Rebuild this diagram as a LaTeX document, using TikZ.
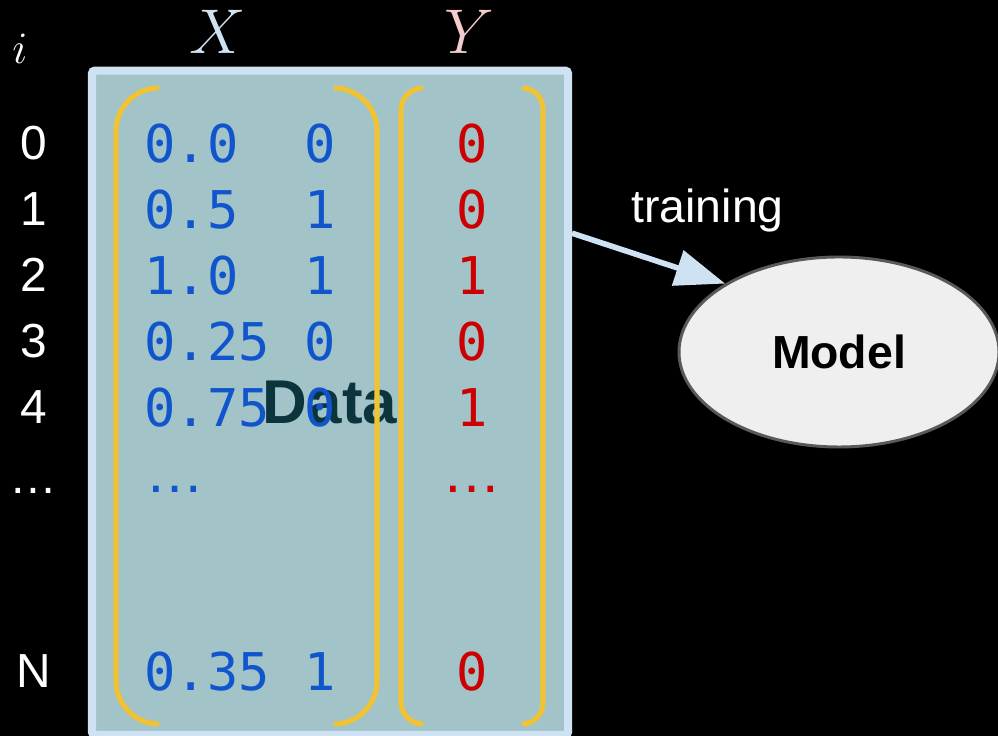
\RequirePackage{fix-cm}
\documentclass[tikz,border=0pt]{standalone}
\usepackage{fontspec}
\setmainfont{Liberation Sans}
\newfontfamily\monofont{DejaVu Sans Mono}
\usetikzlibrary{arrows.meta,shapes.geometric,positioning}
\definecolor{databackground}{HTML}{a2c4c9}
\definecolor{databorder}{HTML}{cfe2f3}
\definecolor{bracketyellow}{HTML}{f1c232}
\definecolor{featureblue}{HTML}{1155cc}
\definecolor{labelred}{HTML}{cc0000}
\definecolor{labelpink}{HTML}{f4cccc}
\definecolor{datatext}{HTML}{0c343d}
\definecolor{modelfill}{HTML}{efefef}
\definecolor{modelborder}{HTML}{595959}

\begin{document}
\begin{tikzpicture}[
    index/.style={white, anchor=base, inner sep=0, font=\fontsize{34}{40}\selectfont},
    feature/.style={featureblue, anchor=base west, inner sep=0, font=\monofont\fontsize{37}{42}\selectfont},
    target/.style={labelred, anchor=base, inner sep=0, font=\monofont\fontsize{37}{42}\selectfont},
    dots/.style={anchor=base, inner sep=0, font=\fontsize{42}{48}\selectfont},
    bracket/.style={bracketyellow, line width=3.6pt},
    ]

    \useasboundingbox (0,0) rectangle (24.95,18.4);
    \fill[black] (0,0) rectangle (24.95,18.4);

    % the data table
    \node[draw=databorder, fill=databackground, line width=5.7pt, rounded corners=2pt,
        minimum width=11.9cm, minimum height=16.61cm, text=datatext,
        font=\bfseries\fontsize{44}{50}\selectfont] (data) at (8.25,8.33) {Data};

    % column headers
    \node[white, anchor=base, inner sep=0, font=\fontsize{32}{38}\selectfont] (ihead) at (0.5,16.8) {$i$};
    \node[text=databorder, anchor=base, inner sep=0, font=\fontsize{45}{54}\selectfont] (xhead) at (5.45,17.05) {$X$};
    \node[text=labelpink, anchor=base, inner sep=0, font=\fontsize{45}{54}\selectfont] (yhead) at (11.725,17.05) {$Y$};

    % brackets round X and Y
    \draw[bracket] (3.975,16.2) arc[start angle=90, end angle=180, radius=1.075] -- (2.9,1.375)
        arc[start angle=180, end angle=270, radius=1.075];
    \draw[bracket] (8.35,16.2) arc[start angle=90, end angle=0, radius=1.075] -- (9.425,1.375)
        arc[start angle=0, end angle=-90, radius=1.075];
    \draw[bracket] (10.575,16.2) arc[start angle=90, end angle=180, radius=0.55] -- (10.025,0.85)
        arc[start angle=180, end angle=270, radius=0.55];
    \draw[bracket] (13.05,16.2) arc[start angle=90, end angle=0, radius=0.525] -- (13.575,0.825)
        arc[start angle=0, end angle=-90, radius=0.525];

    % rows
    \node[index] (i0) at (0.84,14.4) {0};
    \node[feature] (xa0) at (3.61,14.325) {0.0};
    \node[feature] (xb0) at (7.61,14.325) {0};
    \node[target] (y0) at (11.8,14.325) {0};

    \node[index] (i1) at (0.84,12.75) {1};
    \node[feature] (xa1) at (3.61,12.675) {0.5};
    \node[feature] (xb1) at (7.61,12.675) {1};
    \node[target] (y1) at (11.8,12.675) {0};

    \node[index] (i2) at (0.84,11.1) {2};
    \node[feature] (xa2) at (3.61,11.025) {1.0};
    \node[feature] (xb2) at (7.61,11.025) {1};
    \node[target] (y2) at (11.8,11.025) {1};

    \node[index] (i3) at (0.84,9.45) {3};
    \node[feature] (xa3) at (3.61,9.375) {0.25};
    \node[feature] (xb3) at (7.61,9.375) {0};
    \node[target] (y3) at (11.8,9.375) {0};

    \node[index] (i4) at (0.84,7.8) {4};
    \node[feature] (xa4) at (3.61,7.725) {0.75};
    \node[feature] (xb4) at (7.61,7.725) {0};
    \node[target] (y4) at (11.8,7.725) {1};

    \node[index] (idots) at (0.84,6.05) {…};
    \node[dots, featureblue] (xdots) at (4.375,6.075) {…};
    \node[dots, labelred] (ydots) at (11.81,6.075) {…};

    \node[index] (iN) at (0.84,1.2) {N};
    \node[feature] (xaN) at (3.61,1.125) {0.35};
    \node[feature] (xbN) at (7.61,1.125) {1};
    \node[target] (yN) at (11.8,1.125) {0};

    % the model
    \node[ellipse, draw=modelborder, fill=modelfill, line width=2.1pt, minimum width=8cm,
        minimum height=4.75cm, inner sep=0, font=\bfseries\fontsize{33}{40}\selectfont] (model) at (20.975,9.6) {Model};

    \draw[databorder, line width=4pt, -{Triangle[length=1.25cm, width=0.9cm]}]
        ([yshift=4.24cm]data.east) -- (model.149)
        node[pos=0.37, anchor=south west, inner sep=0, yshift=0.43cm, white,
            font=\fontsize{33}{40}\selectfont] (training) {training};
\end{tikzpicture}
\end{document}
